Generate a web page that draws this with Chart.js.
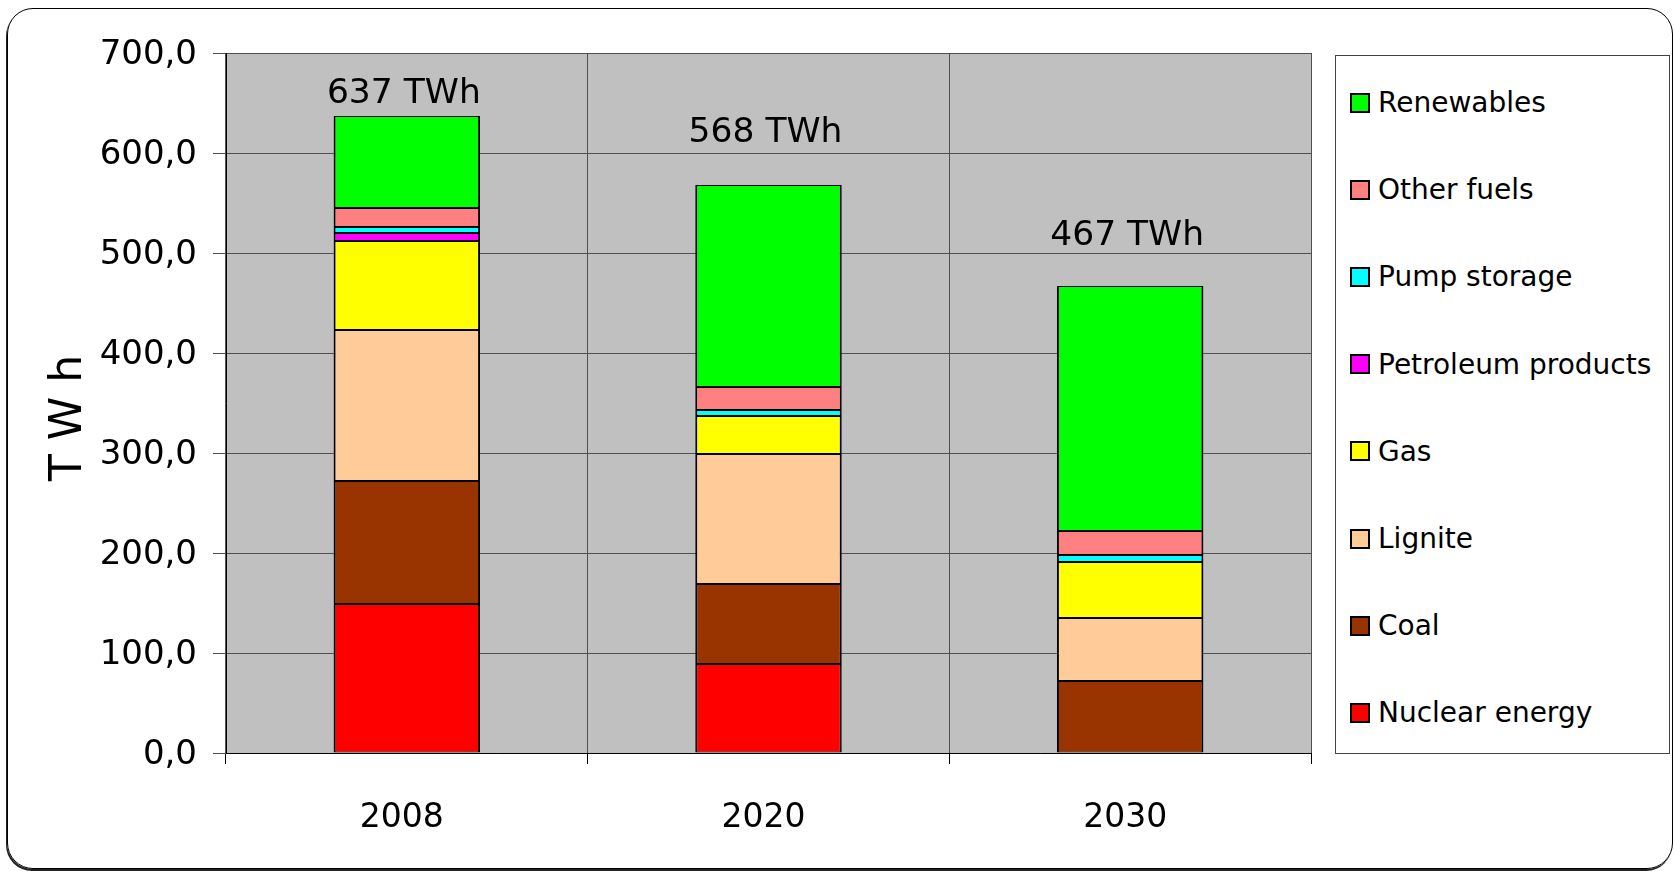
<!DOCTYPE html>
<html>
<head>
<meta charset="utf-8">
<script src="https://cdn.jsdelivr.net/npm/chart.js@4.4.1/dist/chart.umd.min.js"></script>
<style>
  html, body { margin: 0; padding: 0; background: #fff; }
  body { width: 1674px; height: 871px; position: relative; overflow: hidden; font-family: "DejaVu Sans", sans-serif; }
  #frame { position: absolute; left: 7px; top: 8px; width: 1664px; height: 859px; border: 1.5px solid #000; border-radius: 26px; box-shadow: -1px 2px 0 #222; }
  #wrap { position: absolute; left: 0; top: 0; width: 1674px; height: 871px; }
  #legend { position: absolute; left: 1335px; top: 55px; width: 335px; height: 699px; border: 1px solid #444; box-sizing: border-box; background: #fff; padding-top: 3px; }
  .item { height: 87.2px; display: flex; align-items: center; padding-left: 14px; font-size: 28px; color: #000; white-space: nowrap; }
  .sw { width: 16px; height: 16px; border: 2px solid #000; margin-right: 8px; flex: none; }
</style>
</head>
<body>
<div id="frame"></div>
<div id="wrap"><canvas id="c" width="1674" height="871"></canvas></div>
<div id="legend"></div>
<script>
// ---- data ----
const categories = ['2008', '2020', '2030'];
const seriesNames = ['Nuclear energy', 'Coal', 'Lignite', 'Gas', 'Petroleum products', 'Pump storage', 'Other fuels', 'Renewables'];
const nuclear    = [149,  89,   0];
const coal       = [123,  80,  72];
const lignite    = [151, 130,  63];
const gas        = [ 89,  38,  56];
const petroleum  = [  8,   0,   0];
const pump       = [  6,   6,   7];
const otherFuels = [ 19,  23,  24];
const renewables = [ 92, 202, 245];
const totalLabels = ['637 TWh', '568 TWh', '467 TWh'];
const totalLabelAnchors = [659, 620, 517];
const yTitle = 'T W h';

// ---- styles ----
const colors = ['#ff0000', '#993300', '#ffcc99', '#ffff00', '#ff00ff', '#00ffff', '#ff8080', '#00ff00'];
const seriesValues = [nuclear, coal, lignite, gas, petroleum, pump, otherFuels, renewables];
const FONT = '"DejaVu Sans", sans-serif';

const datasets = seriesNames.map((name, i) => ({
  label: name,
  data: seriesValues[i],
  backgroundColor: colors[i],
  borderColor: '#000',
  borderWidth: { left: 2, right: 2, top: 1, bottom: 1 },
  borderSkipped: false,
  categoryPercentage: 1.0,
  barPercentage: 0.405
}));

const plotBg = {
  id: 'plotBg',
  beforeDraw(chart) {
    const { ctx, chartArea: a } = chart;
    ctx.save();
    ctx.fillStyle = '#c0c0c0';
    ctx.fillRect(a.left, a.top, a.right - a.left, a.bottom - a.top);
    ctx.restore();
  }
};

const totals = {
  id: 'totals',
  afterDatasetsDraw(chart) {
    const { ctx, scales: { x, y } } = chart;
    ctx.save();
    ctx.font = '34.5px ' + FONT;
    ctx.fillStyle = '#000';
    ctx.textAlign = 'center';
    ctx.textBaseline = 'middle';
    totalLabels.forEach((t, i) => {
      ctx.fillText(t, x.getPixelForValue(i) - 3, y.getPixelForValue(totalLabelAnchors[i]));
    });
    // y axis title
    ctx.translate(70, 418);
    ctx.rotate(-Math.PI / 2);
    ctx.font = '44px ' + FONT;
    ctx.fillText(yTitle, 0, 0);
    ctx.restore();
  }
};

new Chart(document.getElementById('c'), {
  type: 'bar',
  data: { labels: categories, datasets },
  options: {
    responsive: false,
    animation: false,
    layout: { padding: { left: 0, right: 363, top: 53, bottom: 0 } },
    plugins: { legend: { display: false }, tooltip: { enabled: false } },
    scales: {
      x: {
        stacked: true,
        grid: { color: '#505050', lineWidth: 1, tickLength: 11, tickColor: '#000', offset: true },
        border: { color: '#000', width: 1 },
        ticks: { font: { family: FONT, size: 33 }, color: '#000', padding: 35, labelOffset: -5 },
        afterFit: s => { s.height = 118; }
      },
      y: {
        stacked: true,
        min: 0, max: 700,
        ticks: {
          stepSize: 100,
          font: { family: FONT, size: 34 }, color: '#000', padding: 16, labelOffset: 2,
          callback: v => v.toFixed(1).replace('.', ',')
        },
        grid: { color: '#505050', lineWidth: 1, tickLength: 13 },
        border: { color: '#000', width: 1 },
        afterFit: s => { s.width = 226; }
      }
    }
  },
  plugins: [plotBg, totals]
});

// HTML legend (top to bottom = reverse of stacking order)
const lg = document.getElementById('legend');
for (let i = seriesNames.length - 1; i >= 0; i--) {
  const d = document.createElement('div');
  d.className = 'item';
  const sw = document.createElement('span');
  sw.className = 'sw';
  sw.style.background = colors[i];
  const tx = document.createElement('span');
  tx.textContent = seriesNames[i];
  d.appendChild(sw); d.appendChild(tx);
  lg.appendChild(d);
}
</script>
</body>
</html>
